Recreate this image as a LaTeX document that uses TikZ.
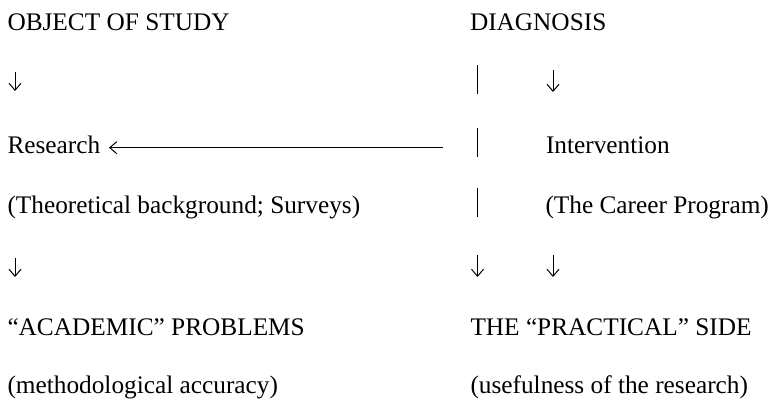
\documentclass[tikz,border=0pt]{standalone}
\usepackage{fontspec}
\setmainfont{Liberation Serif}
\usetikzlibrary{arrows.meta}
\begin{document}
\begin{tikzpicture}[x=1pt,y=-1pt,
  lbl/.style={anchor=base west,inner sep=0pt,outer sep=0pt,font=\fontsize{25.3}{30}\selectfont},
  darr/.style={line width=1pt,-{Straight Barb[length=7pt,width=12pt,line width=1pt]}},
  bar/.style={line width=1pt}]
\useasboundingbox (0,0) rectangle (773,399);
% left column
\node[lbl] (obj) at (7.5,30) {OBJECT OF STUDY};
\node[lbl] (res) at (7.5,153) {Research};
\node[lbl] (theo) at (7.5,213) {(Theoretical background; Surveys)};
\node[lbl] (acad) at (7.5,335) {“ACADEMIC” PROBLEMS};
\node[lbl] (meth) at (7.5,393) {(methodological accuracy)};
% right column
\node[lbl] (diag) at (470,30) {DIAGNOSIS};
\node[lbl] (int) at (546,153) {Intervention};
\node[lbl] (car) at (545.5,213) {(The Career Program)};
\node[lbl] (prac) at (470.5,335) {THE “PRACTICAL” SIDE};
\node[lbl] (use) at (470.5,393) {(usefulness of the research)};
% coordinates for arrows
\coordinate (l1a) at (15,72);  \coordinate (l1b) at (15,91);
\coordinate (l2a) at (15,258); \coordinate (l2b) at (15,277);
\coordinate (r1a) at (553,70); \coordinate (r1b) at (553,92);
\coordinate (r2a) at (553,255); \coordinate (r2b) at (553,277);
\coordinate (m2a) at (477.5,255); \coordinate (m2b) at (477.5,277);
\coordinate (hstart) at (443,147.7);
\coordinate (htip) at (109,147.7);
\draw[darr] (l1a) -- (l1b);
\draw[darr] (l2a) -- (l2b);
\draw[darr] (r1a) -- (r1b);
\draw[darr] (r2a) -- (r2b);
\draw[darr] (m2a) -- (m2b);
\draw[darr] (hstart) -- (htip);
% vertical bars
\coordinate (b1a) at (477.5,65);  \coordinate (b1b) at (477.5,94);
\coordinate (b2a) at (477.5,128); \coordinate (b2b) at (477.5,157);
\coordinate (b3a) at (477.5,188); \coordinate (b3b) at (477.5,217);
\draw[bar] (b1a) -- (b1b);
\draw[bar] (b2a) -- (b2b);
\draw[bar] (b3a) -- (b3b);
\end{tikzpicture}
\end{document}
